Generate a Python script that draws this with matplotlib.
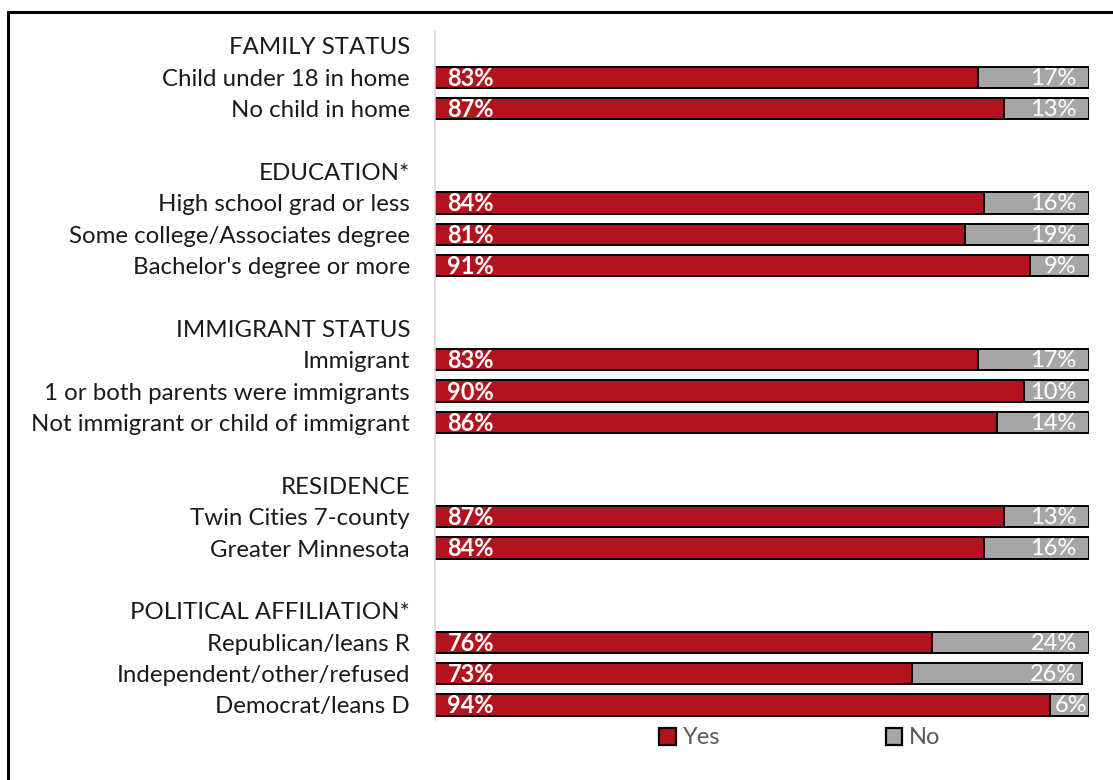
import matplotlib.pyplot as plt
from matplotlib.patches import Rectangle, Patch

plt.rcParams['font.family'] = ['Lato', 'DejaVu Sans']

# rows top to bottom; headers and blank spacer rows carry no values
labels = ["FAMILY STATUS", "Child under 18 in home", "No child in home", "",
          "EDUCATION*", "High school grad or less", "Some college/Associates degree",
          "Bachelor's degree or more", "",
          "IMMIGRANT STATUS", "Immigrant", "1 or both parents were immigrants",
          "Not immigrant or child of immigrant", "",
          "RESIDENCE", "Twin Cities 7-county", "Greater Minnesota", "",
          "POLITICAL AFFILIATION*", "Republican/leans R", "Independent/other/refused",
          "Democrat/leans D"]
yes = [None, 83, 87, None,
       None, 84, 81, 91, None,
       None, 83, 90, 86, None,
       None, 87, 84, None,
       None, 76, 73, 94]
no = [None, 17, 13, None,
      None, 16, 19, 9, None,
      None, 17, 10, 14, None,
      None, 13, 16, None,
      None, 24, 26, 6]

red = "#B3131D"
grey = "#A6A6A6"
W, H = 1113, 780

fig = plt.figure(figsize=(W / 100, H / 100), dpi=100)
ax = fig.add_axes([435 / W, 1 - 720 / H, 654 / W, (720 - 31) / H])

# outer frame, runs off the right and bottom edges
fig.patches.append(Rectangle((8 / W, -0.1), 1.2, 1 - 12 / H + 0.1,
                             transform=fig.transFigure, fill=False,
                             edgecolor="black", linewidth=2.2))

bh = 0.68
for i, (y, n) in enumerate(zip(yes, no)):
    if y is None:
        continue
    ax.barh(i, y, height=bh, color=red, edgecolor="black", linewidth=1.4)
    ax.barh(i, n, left=y, height=bh, color=grey, edgecolor="black", linewidth=1.4)
    ax.text(1.9, i + 0.03, f"{y}%", color="white", fontsize=17, fontweight="bold",
            va="center", ha="left")
    # narrow segments get their label pushed to the bar end
    xr = 99.7 if n < 8 else 98.1
    ax.text(xr, i + 0.03, f"{n}%", color="white", fontsize=17,
            va="center", ha="right")

ax.set_xlim(0, 100)
ax.set_ylim(21.48, -0.478)
ax.set_yticks(range(len(labels)))
ax.set_yticklabels(labels, fontsize=17.3, color="#1a1a1a")
ax.tick_params(axis="y", length=0, pad=18)
ax.set_xticks([])
for s in ["top", "right", "bottom"]:
    ax.spines[s].set_visible(False)
ax.spines["left"].set_color("#D9D9D9")
ax.spines["left"].set_linewidth(1.2)

handles = [Patch(facecolor=red, edgecolor="black", linewidth=1.6, label="Yes"),
           Patch(facecolor=grey, edgecolor="black", linewidth=1.6, label="No")]
leg = fig.legend(handles=handles, loc="center", bbox_to_anchor=(800 / W, 1 - 738 / H),
                 ncol=2, frameon=False, fontsize=17, handlelength=0.7,
                 handleheight=0.7, handletextpad=0.3, columnspacing=7.0)
for t in leg.get_texts():
    t.set_color("#595959")

fig.savefig("out.png", dpi=100)
